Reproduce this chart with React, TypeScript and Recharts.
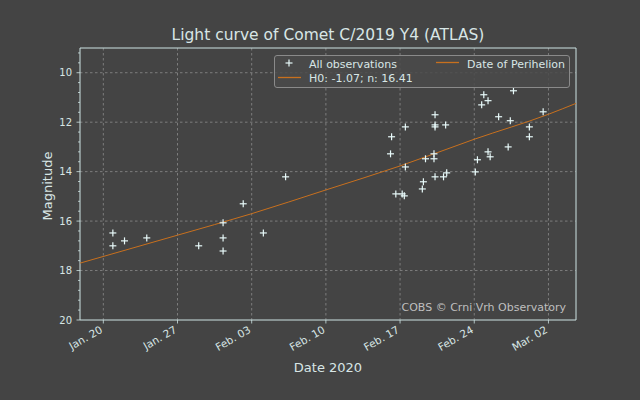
import {
  ComposedChart,
  Scatter,
  Line,
  XAxis,
  YAxis,
  CartesianGrid,
  ReferenceArea,
} from "recharts";

// days counted from Jan. 20, 2020
const dateTicks = [0, 7, 14, 21, 28, 35, 42];
const dateLabels = ["Jan. 20", "Jan. 27", "Feb. 03", "Feb. 10", "Feb. 17", "Feb. 24", "Mar. 02"];

const magTicks = [
  9.2, 9.6, 10, 10.4, 10.8, 11.2, 11.6, 12, 12.4, 12.8, 13.2, 13.6, 14, 14.4, 14.8,
  15.2, 15.6, 16, 16.4, 16.8, 17.2, 17.6, 18, 18.4, 18.8, 19.2, 19.6, 20,
];
const magLabels = [10, 12, 14, 16, 18, 20];

const obsDays = [
  0.9, 0.9, 2.0, 4.1, 9.0, 11.3, 11.3, 11.3, 13.2, 15.1, 17.2, 27.1, 27.2, 27.6, 28.2,
  28.4, 28.5, 28.5, 30.1, 30.2, 30.4, 31.2, 31.2, 31.3, 31.3, 31.3, 31.3, 32.1, 32.3,
  32.4, 35.1, 35.3, 35.7, 35.9, 36.3, 36.3, 36.5, 37.3, 38.2, 38.4, 38.7, 40.2, 40.2,
  41.5,
];
const obsMags = [
  16.48, 17.0, 16.8, 16.68, 17.0, 16.07, 16.68, 17.21, 15.3, 16.48, 14.21, 13.28, 12.59,
  14.9, 14.9, 14.98, 12.19, 13.81, 14.7, 14.41, 13.48, 13.48, 13.28, 11.7, 12.11, 12.19,
  14.21, 14.21, 12.11, 14.05, 14.01, 13.52, 11.3, 10.89, 11.13, 13.2, 13.4, 11.78, 13.0,
  11.94, 10.73, 12.19, 12.59, 11.58,
];

const fitDays = [-2.2, 7, 14, 21, 28, 35, 42, 44.6];
const fitMags = [17.7, 16.57, 15.7, 14.74, 13.77, 12.69, 11.68, 11.24];

const observations = obsDays.map((d, i) => ({ day: d, mag: obsMags[i] }));
const fit = fitDays.map((d, i) => ({ day: d, mag: fitMags[i] }));

const BG = "#444444";
const FG = "#d8e6e6";
const SPINE = "#cde3e3";
const ORANGE = "#c8701e";
const FONT = "'DejaVu Sans', sans-serif";

function Cross(props: any) {
  const { cx, cy } = props;
  if (cx == null || cy == null) return null;
  return (
    <g stroke="#e8fafa" strokeWidth={1.2}>
      <line x1={cx - 3.5} x2={cx + 3.5} y1={cy} y2={cy} />
      <line x1={cx} x2={cx} y1={cy - 3.5} y2={cy + 3.5} />
    </g>
  );
}

function YTick({ x, y, payload }: any) {
  const v = payload.value;
  const major = magLabels.some((m) => Math.abs(m - v) < 1e-6);
  return (
    <g>
      <line x1={x} x2={x - (major ? 3.5 : 2)} y1={y} y2={y} stroke={SPINE} strokeWidth={0.8} />
      {major && (
        <text x={x - 8} y={y} dy="0.36em" textAnchor="end" fill={FG} fontSize={10} fontFamily={FONT}>
          {Math.round(v)}
        </text>
      )}
    </g>
  );
}

function XTick({ x, y, payload }: any) {
  const idx = dateTicks.indexOf(payload.value);
  const ax = x - 4;
  const ay = y + 5;
  return (
    <g>
      <line x1={x} x2={x} y1={y} y2={y + 3.5} stroke={SPINE} strokeWidth={0.8} />
      <text
        x={ax}
        y={ay}
        dy="0.75em"
        textAnchor="end"
        transform={`rotate(-30, ${ax}, ${ay})`}
        fill={FG}
        fontSize={10.5}
        fontFamily={FONT}
      >
        {dateLabels[idx]}
      </text>
    </g>
  );
}

export default function App() {
  return (
    <div
      style={{
        position: "relative",
        width: 640,
        height: 400,
        background: BG,
        fontFamily: FONT,
        color: FG,
        overflow: "hidden",
      }}
    >
      <style>{`body{margin:0;background:${BG}}`}</style>
      <ComposedChart
        width={640}
        height={400}
        margin={{ top: 48, right: 64, bottom: 0, left: 0 }}
      >
        <CartesianGrid
          stroke="#8c8c8c"
          strokeDasharray="2.5 2.5"
          strokeWidth={0.8}
          horizontalValues={[10, 12, 14, 16, 18]}
          verticalValues={dateTicks}
        />
        <XAxis
          dataKey="day"
          type="number"
          domain={[-2.2, 44.6]}
          ticks={dateTicks}
          interval={0}
          allowDataOverflow
          height={80}
          tickSize={0}
          tickMargin={0}
          tickLine={false}
          axisLine={false}
          tick={<XTick />}
        />
        <YAxis
          dataKey="mag"
          type="number"
          reversed
          domain={[9, 20]}
          ticks={magTicks}
          interval={0}
          allowDataOverflow
          width={80}
          tickSize={0}
          tickMargin={0}
          tickLine={false}
          axisLine={false}
          tick={<YTick />}
        />
        <Line
          data={fit}
          dataKey="mag"
          type="monotone"
          stroke={ORANGE}
          strokeWidth={1}
          dot={false}
          isAnimationActive={false}
        />
        <Scatter
          data={observations}
          dataKey="mag"
          shape={<Cross />}
          isAnimationActive={false}
        />
        <ReferenceArea
          x1={-2.2}
          x2={44.6}
          y1={9}
          y2={20}
          fill="none"
          stroke={SPINE}
          strokeWidth={1}
          fillOpacity={0}
          ifOverflow="visible"
        />
      </ComposedChart>

      <div
        style={{
          position: "absolute",
          left: 0,
          width: 656,
          top: 27.6,
          textAlign: "center",
          fontSize: 15.5,
          lineHeight: 1,
          whiteSpace: "nowrap",
        }}
      >
        Light curve of Comet C/2019 Y4 (ATLAS)
      </div>

      <div
        style={{
          position: "absolute",
          left: 47,
          top: 186,
          fontSize: 13,
          lineHeight: 1,
          whiteSpace: "nowrap",
          transform: "translate(-50%, -50%) rotate(-90deg)",
        }}
      >
        Magnitude
      </div>

      <div
        style={{
          position: "absolute",
          left: 0,
          width: 656,
          top: 361,
          textAlign: "center",
          fontSize: 13,
          lineHeight: 1,
          whiteSpace: "nowrap",
        }}
      >
        Date 2020
      </div>

      <div
        style={{
          position: "absolute",
          left: 274,
          top: 55,
          width: 296,
          height: 33,
          boxSizing: "border-box",
          background: "rgba(74,74,74,0.85)",
          border: "1px solid #8a8a8a",
          borderRadius: 3,
          fontSize: 11,
          lineHeight: 1,
          whiteSpace: "nowrap",
        }}
      >
        <svg
          width={294}
          height={31}
          style={{ position: "absolute", left: 0, top: 0 }}
        >
          <line x1={3} x2={26} y1={21.5} y2={21.5} stroke={ORANGE} strokeWidth={1.3} />
          <line x1={161} x2={184} y1={6.5} y2={6.5} stroke={ORANGE} strokeWidth={1.3} />
          <line x1={10.5} x2={17.5} y1={7} y2={7} stroke="#e8fafa" strokeWidth={1.2} />
          <line x1={14} x2={14} y1={3.5} y2={10.5} stroke="#e8fafa" strokeWidth={1.2} />
        </svg>
        <span style={{ position: "absolute", left: 34, top: 2.5 }}>All observations</span>
        <span style={{ position: "absolute", left: 34, top: 16.5 }}>H0: -1.07; n: 16.41</span>
        <span style={{ position: "absolute", left: 192, top: 2.5 }}>Date of Perihelion</span>
      </div>

      <div
        style={{
          position: "absolute",
          right: 74,
          top: 301.5,
          fontSize: 11,
          lineHeight: 1,
          color: "#bfbfbf",
          whiteSpace: "nowrap",
        }}
      >
        COBS © Crni Vrh Observatory
      </div>
    </div>
  );
}
